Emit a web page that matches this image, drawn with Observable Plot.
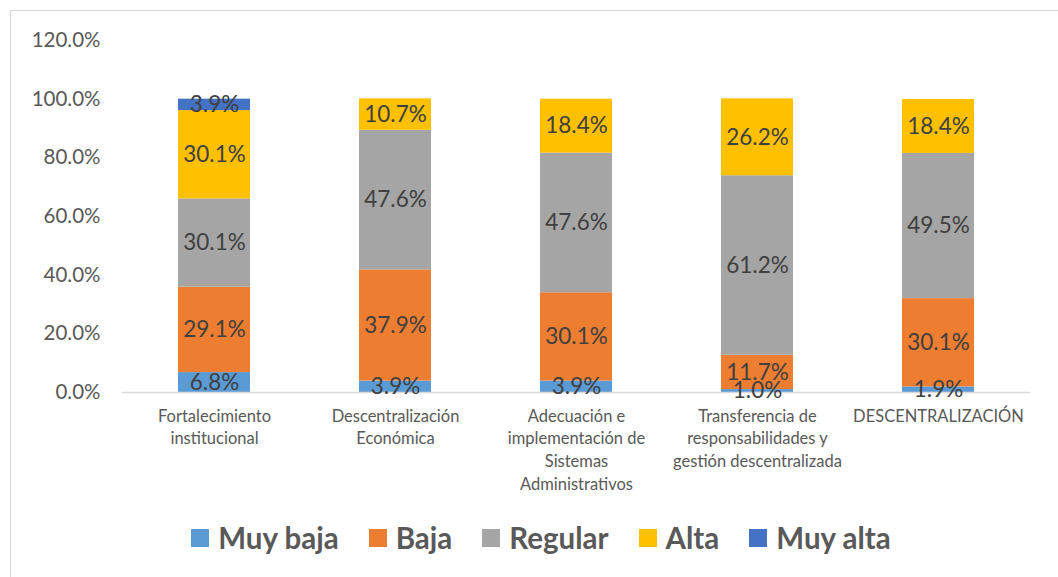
<!DOCTYPE html>
<html>
<head>
<meta charset="utf-8">
<script src="https://cdn.jsdelivr.net/npm/d3@7"></script>
<script src="https://cdn.jsdelivr.net/npm/@observablehq/plot@0.6"></script>
<style>
  html, body { margin: 0; padding: 0; background: #fff; }
  body { width: 1058px; height: 577px; position: relative; overflow: hidden; font-family: Lato, "Open Sans", sans-serif; }
  #frame { position: absolute; left: 10px; top: 10px; width: 1100px; height: 600px; border: 1px solid #d9d9d9; box-sizing: border-box; pointer-events: none; }
  #chart { position: absolute; left: 0; top: 0; }
  #legend { position: absolute; left: 0; top: 518px; width: 1058px; display: flex; justify-content: center; align-items: center; gap: 30px; font-weight: 700; font-size: 29.5px; line-height: 40px; color: #595959; padding-left: 24px; box-sizing: border-box; }
  #legend .item { display: flex; align-items: center; gap: 9px; }
  #legend .sw { width: 18px; height: 18px; display: inline-block; }
</style>
</head>
<body>
<div id="chart"></div>
<div id="legend"></div>
<div id="frame"></div>
<script>
const categories = [
  "Fortalecimiento\ninstitucional",
  "Descentralización\nEconómica",
  "Adecuación e\nimplementación de\nSistemas\nAdministrativos",
  "Transferencia de\nresponsabilidades y\ngestión descentralizada",
  "DESCENTRALIZACIÓN"
];
const seriesNames = ["Muy baja", "Baja", "Regular", "Alta", "Muy alta"];
const seriesColors = ["#5B9BD5", "#ED7D31", "#A5A5A5", "#FFC000", "#4472C4"];
const muyBaja = [6.8, 3.9, 3.9, 1.0, 1.9];
const baja    = [29.1, 37.9, 30.1, 11.7, 30.1];
const regular = [30.1, 47.6, 47.6, 61.2, 49.5];
const alta    = [30.1, 10.7, 18.4, 26.2, 18.4];
const muyAlta = [3.9, 0, 0, 0, 0];
const yTicks = [0, 0.2, 0.4, 0.6, 0.8, 1.0, 1.2];

const seriesValues = [muyBaja, baja, regular, alta, muyAlta];
const data = [];
categories.forEach((c, i) => {
  seriesNames.forEach((s, j) => {
    data.push({category: c, series: s, value: seriesValues[j][i] / 100});
  });
});
const labelData = data.filter(d => d.value > 0);

const chart = Plot.plot({
  width: 1058,
  height: 505,
  marginLeft: 122,
  marginRight: 28,
  marginTop: 40,
  marginBottom: 113,
  style: { fontFamily: "Lato, 'Open Sans', sans-serif", background: "transparent" },
  x: { domain: categories, paddingInner: 0.6, paddingOuter: 0.3, label: null },
  y: { domain: [0, 1.2], ticks: yTicks, label: null },
  color: { domain: seriesNames, range: seriesColors },
  marks: [
    Plot.axisY({ ticks: yTicks, tickFormat: d3.format(".1%"), tickSize: 0, tickPadding: 22, fontSize: 20.5, fill: "#595959", label: null }),
    Plot.axisX({ tickSize: 0, tickPadding: 13, fontSize: 16.5, lineHeight: 1.38, fill: "#595959", label: null, textAnchor: "middle" }),
    Plot.barY(data, Plot.stackY({ x: "category", y: "value", fill: "series", order: seriesNames })),
    Plot.ruleY([0], { stroke: "#d9d9d9", strokeWidth: 1.5 }),
    Plot.text(labelData, Plot.stackY({ x: "category", y: "value", z: "series", order: seriesNames, text: d => d3.format(".1%")(d.value), fontSize: 22.5, fill: "#404040" }))
  ]
});
document.getElementById("chart").appendChild(chart);

const legend = document.getElementById("legend");
seriesNames.forEach((s, i) => {
  const item = document.createElement("div");
  item.className = "item";
  const sw = document.createElement("span");
  sw.className = "sw";
  sw.style.background = seriesColors[i];
  const t = document.createElement("span");
  t.textContent = s;
  item.appendChild(sw);
  item.appendChild(t);
  legend.appendChild(item);
});
</script>
</body>
</html>
